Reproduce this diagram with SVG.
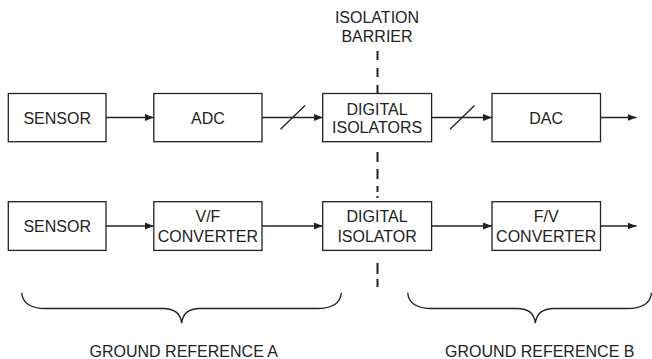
<svg xmlns="http://www.w3.org/2000/svg" width="652" height="359" viewBox="0 0 652 359">
<style>
.box{fill:#fff;stroke:#222;stroke-width:1.3}
.t{font-family:"Liberation Sans",Arial,sans-serif;font-size:16px;fill:#222;text-anchor:middle}
.ln{stroke:#222;stroke-width:1.3;fill:none}
.dash{stroke:#222;stroke-width:2;fill:none}
</style>
<defs>
<marker id="ah" markerWidth="10" markerHeight="8" refX="9" refY="4" orient="auto" markerUnits="userSpaceOnUse">
<path d="M0,0.5 L9,4 L0,7.5 Z" fill="#222"/>
</marker>
</defs>
<rect width="652" height="359" fill="#fff"/>
<text class="t" x="377" y="22.7">ISOLATION</text>
<text class="t" x="377" y="42">BARRIER</text>
<g id="barrier">
<path class="dash" d="M377.5,51 V60 M377.5,68 V77 M377.5,85 V93 M377.5,152 V162 M377.5,169 V179 M377.5,186 V192 M377.5,196 V198 M377.5,263 V274 M377.5,279 V287"/>
</g>
<g id="connectors">
<line class="ln" x1="106" y1="117.5" x2="153.8" y2="117.5" marker-end="url(#ah)"/>
<line class="ln" x1="262" y1="117.5" x2="322.7" y2="117.5" marker-end="url(#ah)"/>
<line class="ln" x1="280.5" y1="129.3" x2="305" y2="105.5"/>
<line class="ln" x1="431.6" y1="117.5" x2="492" y2="117.5" marker-end="url(#ah)"/>
<line class="ln" x1="450" y1="129.3" x2="474.5" y2="105.5"/>
<line class="ln" x1="600.5" y1="117.5" x2="636.5" y2="117.5" marker-end="url(#ah)"/>
<line class="ln" x1="106" y1="226" x2="153.8" y2="226" marker-end="url(#ah)"/>
<line class="ln" x1="262" y1="226" x2="322.7" y2="226" marker-end="url(#ah)"/>
<line class="ln" x1="431.6" y1="226" x2="492" y2="226" marker-end="url(#ah)"/>
<line class="ln" x1="600.5" y1="226" x2="636.5" y2="226" marker-end="url(#ah)"/>
</g>
<g id="sensor1"><rect class="box" x="8.3" y="93.5" width="97.7" height="48.2"/><text class="t" x="57.2" y="123.5">SENSOR</text></g>
<g id="adc"><rect class="box" x="153.8" y="93.5" width="108.2" height="48.2"/><text class="t" x="207.9" y="123.5">ADC</text></g>
<g id="digital_isolators"><rect class="box" x="322.7" y="93.5" width="108.9" height="48.2"/><text class="t" x="377.1" y="114.7">DIGITAL</text><text class="t" x="377.1" y="133.2">ISOLATORS</text></g>
<g id="dac"><rect class="box" x="492" y="93.5" width="108.5" height="48.2"/><text class="t" x="546.2" y="123.5">DAC</text></g>
<g id="sensor2"><rect class="box" x="8.3" y="201.7" width="97.7" height="48.7"/><text class="t" x="57.2" y="231.8">SENSOR</text></g>
<g id="vf"><rect class="box" x="153.8" y="201.7" width="108.2" height="48.7"/><text class="t" x="207.9" y="222">V/F</text><text class="t" x="207.9" y="241.5">CONVERTER</text></g>
<g id="digital_isolator"><rect class="box" x="322.7" y="201.7" width="108.9" height="48.7"/><text class="t" x="377.1" y="222">DIGITAL</text><text class="t" x="377.1" y="241.5">ISOLATOR</text></g>
<g id="fv"><rect class="box" x="492" y="201.7" width="108.5" height="48.7"/><text class="t" x="546.2" y="222">F/V</text><text class="t" x="546.2" y="241.5">CONVERTER</text></g>
<g id="brace_a">
<path class="ln" d="M21.7,292.7 Q23,308.5 46,308.5 L163,308.5 Q180,308.5 181.7,323.3 Q183,308.5 200,308.5 L317,308.5 Q340,308.5 341.3,292.7"/>
<text class="t" x="183.8" y="357.2">GROUND REFERENCE A</text>
</g>
<g id="brace_b">
<path class="ln" d="M407.7,292.7 Q409,308.5 432,308.5 L517,308.5 Q534,308.5 535.3,323.3 Q537,308.5 554,308.5 L627,308.5 Q650,308.5 651.5,292.7"/>
<text class="t" x="539.8" y="357.2">GROUND REFERENCE B</text>
</g>
</svg>
